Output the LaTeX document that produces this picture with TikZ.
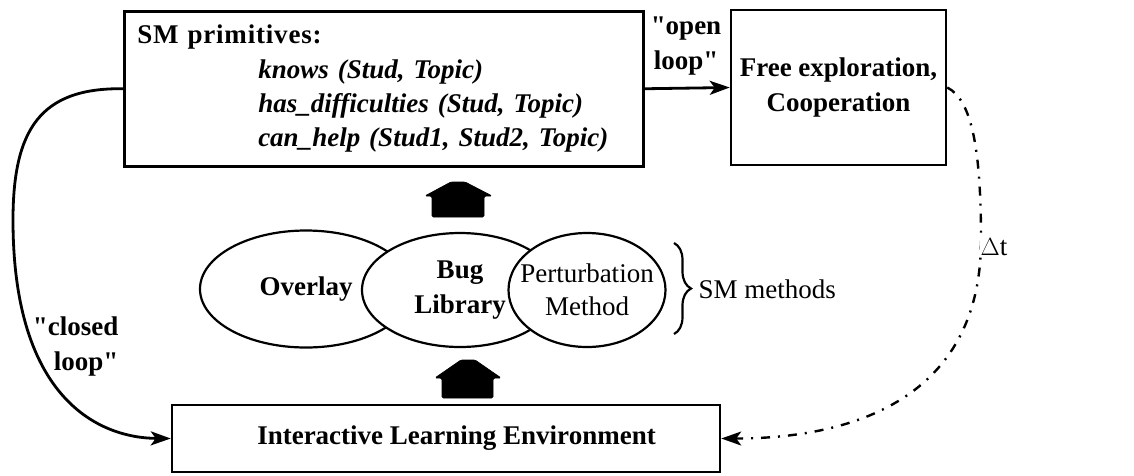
\documentclass[tikz,border=0pt]{standalone}
\usepackage{fontspec}
\setmainfont{Liberation Serif}[Ligatures=TeXOff]
\usetikzlibrary{arrows.meta,shapes.geometric,decorations.pathreplacing}
\begin{document}
\begin{tikzpicture}[x=1pt,y=-1pt,
  box/.style={draw, line width=2.5pt, inner sep=0pt},
  ell/.style={draw, ellipse, fill=white, line width=2.2pt, inner sep=0pt},
  fb/.style={font=\fontsize{27}{35}\selectfont\bfseries},
  fr/.style={font=\fontsize{27}{33}\selectfont},
  conn/.style={line width=2.8pt, -{Stealth[length=20pt,width=14pt,inset=5pt]}},
  dd/.style={line width=2.4pt, dash pattern=on 9pt off 8pt on 2pt off 8pt, -{Stealth[length=20pt,width=14pt,inset=5pt]}},
  blockarrow/.style={fill=black, draw=black, line width=0.8pt, rounded corners=1.5pt}
]
\useasboundingbox (0,0) rectangle (1134,475);
\fill[white] (0,0) rectangle (1134,475);

% boxes
\node[box, minimum width=519, minimum height=155, align=left, anchor=north west,
      font=\fontsize{27}{34.3}\selectfont\bfseries, inner xsep=13pt, text width=493pt] (prim) at (123,10)
  {{\addfontfeature{LetterSpace=3}SM primitives:}\\
   \hspace*{121pt}\textit{knows (Stud, Topic)}\\
   \hspace*{121pt}\textit{has\_difficulties (Stud, Topic)}\\
   \hspace*{121pt}\textit{can\_help (Stud1, Stud2, Topic)}};
\node[box, fb, minimum width=215, minimum height=155, align=center] (free) at (838.5,87.5)
  {Free exploration,\\Cooperation};
\node[box, fb, minimum width=548, minimum height=67] (ile) at (446,438.5)
  {\hspace*{21pt}Interactive Learning Environment};

% ellipses
\node[ell, minimum width=212, minimum height=117] (ov) at (306,289) {};
\node[fb, font=\fontsize{27}{33}\selectfont\bfseries] (ovt) at (ov) {Overlay};
\node[ell, minimum width=196, minimum height=114] (bug) at (460,290) {};
\node[align=center, font=\fontsize{27}{35}\selectfont\bfseries] (bugt) at (bug) {Bug\\Library};
\node[ell, minimum width=157, minimum height=114] (pert) at (587,290) {};
\node[fr, align=center] (pertt) at (pert) {Perturbation\\Method};

% brace and label
\coordinate (bt) at (674,243);
\coordinate (bb) at (674,334);
\draw[line width=2.2pt, decoration={brace, amplitude=17pt}, decorate] (bt) -- (bb);
\node[fr, anchor=west] (smm) at (695,289) {SM methods};

% block arrows
\draw[blockarrow] (432,217) -- (432,196) -- (425,196) -- (451,182) -- (465,182) -- (492,196) -- (484,196) -- (484,217) -- cycle;
\draw[blockarrow] (442,398) -- (442,378) -- (435,378) -- (461,360) -- (475,360) -- (501,378) -- (493,378) -- (493,398) -- cycle;

% open loop
\draw[conn] (prim.east) -- (free.west);
\node[fb, align=center] (ol) at (686,46) {"open\\ loop"};

% closed loop
\draw[conn] (prim.west) .. controls (40,87.5) and (13,130) .. (13,220)
   .. controls (13,400) and (100,438) .. (ile.west);
\node[fb, align=right, anchor=east] (cl) at (122,346) {"closed\\ loop"};

% delta t
\draw[dd] (free.east) .. controls (972,100) and (981,150) .. (981,240)
   .. controls (981,400) and (850,438.5) .. (ile.east);
\node[fr, fill=white, inner sep=1pt] (dt) at (994,247) {$\Delta$t};
\end{tikzpicture}
\end{document}
